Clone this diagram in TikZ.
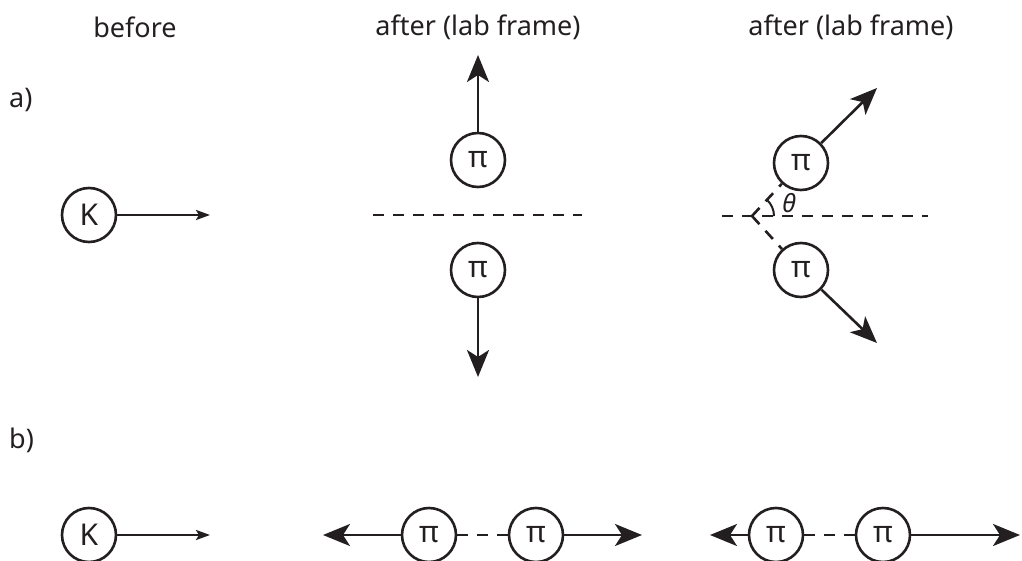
\documentclass[tikz,border=0pt]{standalone}
\usepackage{fontspec}
\setmainfont{Noto Sans}
\usetikzlibrary{positioning,arrows.meta}
\definecolor{ink}{HTML}{231F20}

\begin{document}
\begin{tikzpicture}[
  x=1pt, y=-1pt, color=ink,
  lbl/.style={font=\fontsize{27}{31}\selectfont, inner sep=0pt},
  part/.style={draw, circle, line width=2.6pt, minimum size=54pt, inner sep=0pt, font=\fontsize{30}{34}\selectfont},
  kin/.style={-{Stealth[length=14pt,width=10pt,inset=3pt]}, line width=2.6pt},
  arr/.style={-{Stealth[length=27pt,width=22pt,inset=7pt]}, line width=2.6pt},
  axis/.style={line width=2.6pt, dash pattern=on 11pt off 9pt}
]
\useasboundingbox (0,0) rectangle (1022,561);

% column titles and row labels
\node[lbl] (before) at (135,27) {before};
\node[lbl] (afterA) at (478,27) {after (lab frame)};
\node[lbl] (afterB) at (851,27) {after (lab frame)};
\node[lbl, anchor=west] (rowA) at (9,100) {a)};
\node[lbl, anchor=west] (rowB) at (9,440) {b)};

% a) before
\node[part] (kaonA) at (89,215) {K};
\coordinate (kaonAtip) at (210,215);
\draw[kin] (kaonA) -- (kaonAtip);

% a) after, perpendicular
\node[part] (pionUp) at (478,160) {π};
\node[part] (pionDn) at (478,270) {π};
\coordinate (upTip) at (478,55);
\coordinate (dnTip) at (478,377);
\coordinate (axAl) at (373,215);
\coordinate (axAr) at (582,215);
\draw[axis] (axAl) -- (axAr);
\draw[arr] (pionUp) -- (upTip);
\draw[arr] (pionDn) -- (dnTip);

% a) after, at an angle
\node[part] (pionUr) at (801,163) {π};
\node[part] (pionDr) at (801,270) {π};
\coordinate (vtx) at (752,216);
\coordinate (axBl) at (722,216);
\coordinate (axBr) at (928,216);
\coordinate (urTip) at (877,88);
\coordinate (drTip) at (877,343);
\draw[axis] (axBl) -- (axBr);
\draw[axis] (vtx) -- (pionUr);
\draw[axis] (vtx) -- (pionDr);
\draw[arr] (pionUr) -- (urTip);
\draw[arr] (pionDr) -- (drTip);
\draw[line width=2pt] ([xshift=22pt]vtx) arc[start angle=0, end angle=-47, radius=22];
\node[lbl, font=\fontsize{25}{29}\selectfont\itshape] (theta) at (789,203) {θ};

% b) before
\node[part] (kaonB) at (89,535) {K};
\coordinate (kaonBtip) at (210,535);
\draw[kin] (kaonB) -- (kaonBtip);

% b) after, equal momenta
\node[part] (pionL) at (429,535) {π};
\node[part] (pionR) at (536,535) {π};
\coordinate (lTip) at (323,535);
\coordinate (rTip) at (642,535);
\draw[axis] (pionL) -- (pionR);
\draw[arr] (pionL) -- (lTip);
\draw[arr] (pionR) -- (rTip);

% b) after, boosted
\node[part] (pionLb) at (776,535) {π};
\node[part] (pionRb) at (883,535) {π};
\coordinate (lbTip) at (710,535);
\coordinate (rbTip) at (1020,535);
\draw[axis] (pionLb) -- (pionRb);
\draw[arr] (pionLb) -- (lbTip);
\draw[arr] (pionRb) -- (rbTip);
\end{tikzpicture}
\end{document}
